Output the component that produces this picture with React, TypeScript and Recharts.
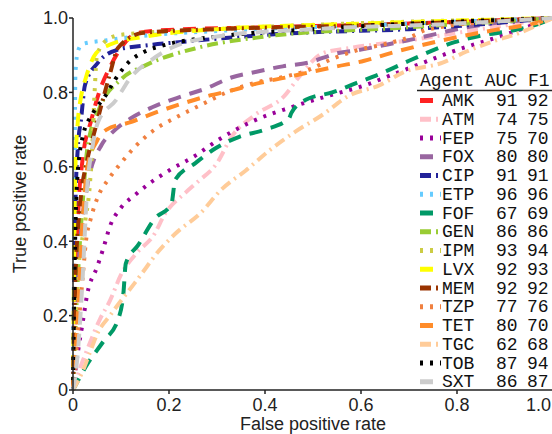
import { Line, LineChart, XAxis, YAxis } from "recharts"

const agents = ["AMK", "ATM", "FEP", "FOX", "CIP", "ETP", "FOF", "GEN", "IPM", "LVX", "MEM", "TZP", "TET", "TGC", "TOB", "SXT"]
const auc = [91, 74, 75, 80, 91, 96, 67, 86, 93, 92, 92, 77, 80, 62, 87, 86]
const f1 = [92, 75, 70, 80, 91, 96, 69, 86, 94, 93, 92, 76, 70, 68, 94, 87]
const ticks = [0, 0.2, 0.4, 0.6, 0.8, 1.0]

// ROC points per agent, [false positive rate, true positive rate]
const amk = [[0, 0], [0.005, 0.2], [0.01, 0.45], [0.02, 0.62], [0.038, 0.725], [0.056, 0.806], [0.077, 0.868], [0.1, 0.92], [0.136, 0.96], [0.2, 0.968], [0.4, 0.975], [0.7, 0.985], [1, 1]]
const atm = [[0, 0], [0.015, 0.06], [0.03, 0.11], [0.056, 0.19], [0.077, 0.24], [0.1, 0.31], [0.134, 0.37], [0.17, 0.42], [0.19, 0.47], [0.234, 0.53], [0.26, 0.56], [0.3, 0.61], [0.33, 0.68], [0.38, 0.74], [0.44, 0.79], [0.47, 0.84], [0.52, 0.905], [0.58, 0.92], [0.7, 0.94], [0.8, 0.96], [0.9, 0.98], [1, 1]]
const fep = [[0, 0], [0.01, 0.1], [0.02, 0.18], [0.03, 0.26], [0.05, 0.33], [0.063, 0.38], [0.077, 0.44], [0.1, 0.49], [0.13, 0.525], [0.16, 0.556], [0.2, 0.59], [0.255, 0.63], [0.3, 0.67], [0.37, 0.72], [0.454, 0.76], [0.53, 0.79], [0.61, 0.82], [0.66, 0.845], [0.72, 0.875], [0.78, 0.905], [0.9, 0.955], [1, 1]]
const fox = [[0, 0], [0.01, 0.3], [0.03, 0.55], [0.06, 0.66], [0.08, 0.69], [0.12, 0.73], [0.165, 0.76], [0.228, 0.79], [0.276, 0.81], [0.33, 0.84], [0.38, 0.855], [0.437, 0.87], [0.49, 0.88], [0.55, 0.905], [0.6, 0.915], [0.66, 0.93], [0.715, 0.945], [0.82, 0.975], [1, 1]]
const cip = [[0, 0], [0.005, 0.5], [0.01, 0.65], [0.017, 0.73], [0.025, 0.82], [0.052, 0.88], [0.094, 0.915], [0.157, 0.927], [0.22, 0.935], [0.47, 0.96], [0.7, 0.97], [1, 1]]
const etp = [[0, 0], [0.003, 0.5], [0.005, 0.85], [0.01, 0.91], [0.02, 0.93], [0.07, 0.94], [0.13, 0.95], [0.3, 0.965], [0.6, 0.98], [1, 1]]
const fof = [[0, 0], [0.03, 0.07], [0.063, 0.13], [0.094, 0.19], [0.105, 0.26], [0.11, 0.34], [0.136, 0.39], [0.17, 0.46], [0.205, 0.5], [0.213, 0.565], [0.255, 0.61], [0.297, 0.65], [0.345, 0.68], [0.4, 0.7], [0.45, 0.73], [0.455, 0.745], [0.485, 0.78], [0.54, 0.8], [0.59, 0.825], [0.64, 0.85], [0.7, 0.885], [0.795, 0.935], [0.86, 0.955], [0.91, 0.965], [0.96, 0.98], [1, 1]]
const gen = [[0, 0], [0.01, 0.3], [0.02, 0.5], [0.03, 0.65], [0.056, 0.76], [0.1, 0.835], [0.153, 0.874], [0.26, 0.92], [0.4, 0.95], [0.7, 0.975], [1, 1]]
const ipm = [[0, 0], [0.01, 0.3], [0.025, 0.45], [0.035, 0.55], [0.04, 0.65], [0.045, 0.8], [0.05, 0.9], [0.07, 0.94], [0.1, 0.955], [0.3, 0.97], [1, 1]]
const lvx = [[0, 0], [0.005, 0.6], [0.01, 0.72], [0.017, 0.79], [0.027, 0.84], [0.048, 0.905], [0.08, 0.93], [0.15, 0.95], [0.3, 0.97], [0.6, 0.985], [1, 1]]
const mem = [[0, 0], [0.005, 0.3], [0.015, 0.5], [0.03, 0.62], [0.046, 0.7], [0.058, 0.76], [0.077, 0.85], [0.094, 0.92], [0.146, 0.96], [0.3, 0.97], [0.6, 0.98], [1, 1]]
const tzp = [[0, 0], [0.01, 0.15], [0.02, 0.3], [0.027, 0.4], [0.038, 0.465], [0.052, 0.52], [0.073, 0.565], [0.1, 0.61], [0.13, 0.655], [0.165, 0.695], [0.218, 0.735], [0.266, 0.766], [0.32, 0.8], [0.377, 0.825], [0.433, 0.84], [0.49, 0.86], [0.54, 0.89], [0.594, 0.914], [0.65, 0.93], [0.705, 0.95], [0.74, 0.97], [1, 1]]
const tet = [[0, 0], [0.01, 0.2], [0.02, 0.45], [0.03, 0.6], [0.05, 0.67], [0.07, 0.7], [0.12, 0.72], [0.17, 0.745], [0.228, 0.77], [0.28, 0.79], [0.333, 0.806], [0.387, 0.825], [0.443, 0.84], [0.496, 0.855], [0.55, 0.87], [0.607, 0.885], [0.66, 0.905], [0.77, 0.94], [0.88, 0.968], [0.96, 0.985], [1, 1]]
const tgc = [[0, 0], [0.02, 0.05], [0.035, 0.1], [0.052, 0.155], [0.077, 0.2], [0.094, 0.23], [0.13, 0.29], [0.153, 0.33], [0.17, 0.36], [0.213, 0.42], [0.266, 0.476], [0.31, 0.54], [0.36, 0.59], [0.41, 0.645], [0.464, 0.695], [0.52, 0.74], [0.573, 0.79], [0.64, 0.82], [0.69, 0.855], [0.77, 0.88], [0.82, 0.91], [0.87, 0.935], [0.93, 0.96], [1, 1]]
const tob = [[0, 0], [0.003, 0.3], [0.008, 0.55], [0.02, 0.68], [0.042, 0.745], [0.067, 0.79], [0.088, 0.835], [0.115, 0.88], [0.15, 0.91], [0.19, 0.927], [0.3, 0.95], [0.5, 0.97], [1, 1]]
const sxt = [[0, 0], [0.01, 0.1], [0.02, 0.3], [0.03, 0.55], [0.04, 0.65], [0.052, 0.72], [0.09, 0.78], [0.12, 0.84], [0.163, 0.887], [0.205, 0.92], [0.3, 0.95], [0.5, 0.97], [0.8, 0.985], [1, 1]]

const curves = [amk, atm, fep, fox, cip, etp, fof, gen, ipm, lvx, mem, tzp, tet, tgc, tob, sxt]
const colors = ["#ff2222", "#ffc0c8", "#990099", "#9966a0", "#222299", "#66ccff", "#009966", "#99cc33", "#cccc44", "#ffff00", "#993300", "#f08040", "#ff8c2a", "#ffcc99", "#000000", "#cccccc"]

const LONG = "13 9"
const DASHDOT = "11 5 2 5"
const DOT = "3 7"
const dashes = [LONG, DASHDOT, DOT, LONG, DASHDOT, DOT, LONG, DASHDOT, DOT, LONG, DASHDOT, DOT, LONG, DASHDOT, DOT, LONG]

const sans = "'Liberation Sans', Arial, sans-serif"
const mono = "'Liberation Mono', 'Courier New', monospace"

const fmt = (v: number) => (v === 0 ? "0" : v.toFixed(1))

const XTick = ({ x, y, payload }: any) => {
    const last = payload.value === 1
    return (
        <text x={last ? 551 : x} y={y} dy="0.71em" textAnchor={last ? "end" : "middle"} fontSize={18} fontFamily={sans} fill="#222">
            {fmt(payload.value)}
        </text>
    )
}

export default function App() {
    return (
        <div style={{ position: "fixed", left: 0, top: 0, width: 552, height: 434, overflow: "hidden", background: "#fff" }}>
            <LineChart width={570} height={434} margin={{ top: 18, right: 17, left: 0, bottom: 0 }}>
                <XAxis
                    type="number"
                    dataKey="x"
                    domain={[0, 1]}
                    ticks={ticks}
                    height={44}
                    tickSize={4}
                    tickMargin={4}
                    stroke="#222"
                    strokeWidth={1.5}
                    tick={<XTick />}
                />
                <YAxis
                    type="number"
                    domain={[0, 1]}
                    ticks={ticks}
                    width={73}
                    tickSize={4}
                    tickMargin={1}
                    stroke="#222"
                    strokeWidth={1.5}
                    tickFormatter={fmt}
                    tick={{ fontSize: 18, fontFamily: sans, fill: "#222" }}
                />
                {curves.map((pts, i) => (
                    <Line
                        key={agents[i]}
                        data={pts.map(([x, y]) => ({ x, y }))}
                        dataKey="y"
                        type="monotone"
                        stroke={colors[i]}
                        strokeWidth={4}
                        strokeDasharray={dashes[i]}
                        dot={false}
                        activeDot={false}
                        isAnimationActive={false}
                    />
                ))}
            </LineChart>
            <svg width={552} height={434} style={{ position: "absolute", left: 0, top: 0, pointerEvents: "none" }}>
                <text x={26} y={204} transform="rotate(-90 26 204)" textAnchor="middle" fontSize={18} fontFamily={sans} fill="#222">
                    True positive rate
                </text>
                <text x={313} y={430} textAnchor="middle" fontSize={18} fontFamily={sans} fill="#222">
                    False positive rate
                </text>
                <text x={420} y={86} fontSize={18} fontFamily={mono} fill="#111" style={{ whiteSpace: "pre" }}>
                    Agent AUC F1
                </text>
                <line x1={417} x2={552} y1={90.5} y2={90.5} stroke="#222" strokeWidth={1.5} />
                {agents.map((a, i) => {
                    const base = 106 + 18.75 * i
                    return (
                        <g key={a}>
                            <line x1={420} x2={441} y1={base - 5.5} y2={base - 5.5} stroke={colors[i]} strokeWidth={5} strokeDasharray={dashes[i]} />
                            <text x={442} y={base} fontSize={18} fontFamily={mono} fill="#111">{a}</text>
                            <text x={496} y={base} fontSize={18} fontFamily={mono} fill="#111">{auc[i]}</text>
                            <text x={527} y={base} fontSize={18} fontFamily={mono} fill="#111">{f1[i]}</text>
                        </g>
                    )
                })}
            </svg>
        </div>
    )
}
